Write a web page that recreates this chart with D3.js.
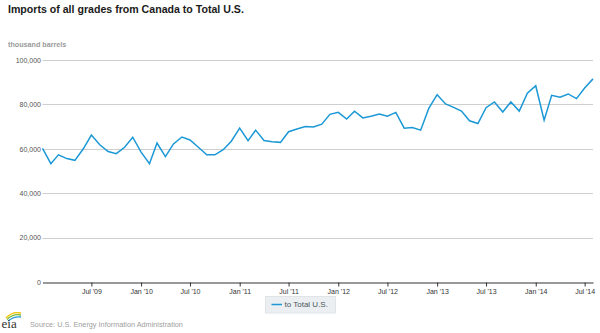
<!DOCTYPE html>
<html>
<head>
<meta charset="utf-8">
<script src="https://cdn.jsdelivr.net/npm/d3@7"></script>
<style>
  html, body { margin: 0; padding: 0; background: #fff; }
  svg { display: block; font-family: "Liberation Sans", Arial, sans-serif; }
</style>
</head>
<body>
<svg id="chart" width="600" height="333"></svg>
<script>
// ---- data ----
const title = "Imports of all grades from Canada to Total U.S.";
const unitLabel = "thousand barrels";
const seriesName = "to Total U.S.";
const sourceText = "Source: U.S. Energy Information Administration";
const startYear = 2009, startMonth = 0; // Jan 2009, monthly
const values = [
  60200, 53300, 57300, 55600, 54800, 60000, 66200, 61800, 58800, 57800, 60700, 65200, // 2009
  58500, 53300, 62600, 56500, 62200, 65300, 64000, 60700, 57300, 57300, 59600, 63400, // 2010
  69300, 63700, 68400, 63700, 63200, 62900, 67700, 68900, 70000, 69800, 71100, 75500, // 2011
  76400, 73400, 76900, 73900, 74700, 75700, 74700, 76400, 69300, 69600, 68400, 78200, // 2012
  84400, 80200, 78800, 77000, 72600, 71400, 78500, 81100, 76600, 81100, 77000, 85000, // 2013
  88400, 72900, 84100, 83200, 84700, 82600, 87400, 91500                              // 2014
];
const yTicks = [0, 20000, 40000, 60000, 80000, 100000];
const xTickLabels = ["Jul '09","Jan '10","Jul '10","Jan '11","Jul '11","Jan '12","Jul '12","Jan '13","Jul '13","Jan '14","Jul '14"];

const dates = values.map((v, i) => new Date(Date.UTC(startYear, startMonth + i, 1)));
const data = values.map((v, i) => ({ date: dates[i], value: v }));

// ---- layout ----
const svg = d3.select("#chart");
const x = d3.scaleUtc()
  .domain([dates[0], dates[dates.length - 1]])
  .range([42.5, 593]);
const y = d3.scaleLinear().domain([0, 100000]).range([282, 60]);

// title
svg.append("text")
  .attr("x", 8).attr("y", 13)
  .attr("font-size", 10.6).attr("font-weight", "bold").attr("fill", "#1a1a1a")
  .text(title);

// unit label
svg.append("text")
  .attr("x", 8).attr("y", 46.5)
  .attr("font-size", 7.2).attr("font-weight", "bold").attr("fill", "#9a9a9a")
  .text(unitLabel);

// gridlines + y labels
const yAxis = d3.axisLeft(y).tickValues(yTicks).tickFormat(d3.format(",")).tickSize(0).tickPadding(1.5);
const gy = svg.append("g").attr("transform", "translate(42.5,0)").call(yAxis);
gy.select(".domain").remove();
gy.selectAll("text").attr("font-size", 7).attr("fill", "#555").attr("font-family", "Liberation Sans, Arial, sans-serif");

svg.append("g").selectAll("line")
  .data(yTicks.filter(d => d > 0))
  .join("line")
  .attr("x1", 42.5).attr("x2", 593)
  .attr("y1", d => Math.round(y(d)) + 0.5).attr("y2", d => Math.round(y(d)) + 0.5)
  .attr("stroke", "#cfcfcf").attr("stroke-width", 1);

// x axis
const xTickDates = xTickLabels.map((s, i) => new Date(Date.UTC(2009, 6 + i * 6, 1)));
const xAxis = d3.axisBottom(x).tickValues(xTickDates)
  .tickFormat(d3.utcFormat("%b '%y")).tickSize(4).tickSizeOuter(0).tickPadding(3);
const gx = svg.append("g").attr("transform", `translate(0,${Math.round(y(0)) + 0.5})`).call(xAxis);
gx.select(".domain").attr("stroke", "#333").attr("stroke-width", 1);
gx.selectAll(".tick line").attr("stroke", "#333");
gx.selectAll("text").attr("font-size", 7).attr("fill", "#333").attr("font-family", "Liberation Sans, Arial, sans-serif");

// line
const line = d3.line().x(d => x(d.date)).y(d => y(d.value));
svg.append("path")
  .datum(data)
  .attr("fill", "none")
  .attr("stroke", "#1b98d5")
  .attr("stroke-width", 1.5)
  .attr("stroke-linejoin", "miter")
  .attr("d", line);

// legend
const lg = svg.append("g").attr("transform", "translate(265,296)");
lg.append("rect").attr("x", 0.5).attr("y", 0.5).attr("width", 70).attr("height", 16.5)
  .attr("fill", "#eceff1").attr("stroke", "#e1e4e6");
lg.append("line").attr("x1", 6.5).attr("x2", 17).attr("y1", 8.5).attr("y2", 8.5)
  .attr("stroke", "#1b98d5").attr("stroke-width", 1.5);
lg.append("text").attr("x", 19.5).attr("y", 11.3)
  .attr("font-size", 8).attr("fill", "#4a5560").text(seriesName);

// eia logo (decorative)
const logo = svg.append("g");
logo.append("path").attr("d", "M6,318 Q12,311 21,313").attr("fill", "none").attr("stroke", "#f2c200").attr("stroke-width", 1.3);
logo.append("path").attr("d", "M7,319.5 Q13,313.5 21,315").attr("fill", "none").attr("stroke", "#7dbb3a").attr("stroke-width", 1.3);
logo.append("path").attr("d", "M8,321 Q14,316 21,317").attr("fill", "none").attr("stroke", "#2b9ad4").attr("stroke-width", 1.3);
logo.append("text").attr("x", 1.5).attr("y", 327.5)
  .attr("font-family", "Liberation Serif, DejaVu Serif, serif").attr("font-size", 13)
  .attr("fill", "#333").text("eia");

// source
svg.append("text").attr("x", 30).attr("y", 326.5)
  .attr("font-size", 7.3).attr("fill", "#a0a0a0").text(sourceText);
</script>
</body>
</html>
